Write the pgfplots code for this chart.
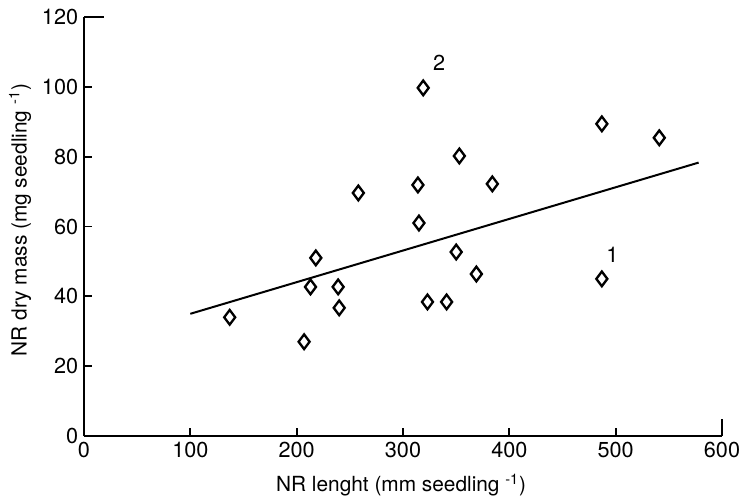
\documentclass[border=0pt]{standalone}
\usepackage{fontspec}
\setmainfont{TeX Gyre Heros}
\usepackage{pgfplots}
\pgfplotsset{compat=1.18}

\begin{document}
\begin{tikzpicture}
\begin{axis}[
    scale only axis,
    width=382.8pt, height=251.4pt,
    xmin=0, xmax=600, ymin=0, ymax=120,
    axis lines=left,
    axis line style={line width=1.1pt, -},
    xtick={0,100,...,600}, ytick={0,20,...,120},
    tick align=inside,
    major tick length=5pt,
    tick style={line width=1.1pt, black},
    tick label style={font=\fontsize{13}{15}\selectfont},
    label style={font=\fontsize{12.5}{14}\selectfont},
    /pgf/number format/assume math mode=true,
    xlabel={NR lenght (mm seedling \textsuperscript{-1})},
    ylabel={NR dry mass (mg seedling \textsuperscript{-1})},
    xlabel style={at={(axis description cs:0.497,-0.117)}, anchor=center},
    ylabel style={at={(axis description cs:-0.1003,0.515)}, anchor=center},
    clip=false,
]
\addplot[only marks, mark=diamond, mark size=4.4pt, mark options={line width=1.4pt, black}] coordinates {
    (137,34) (207,27) (213,42.7) (218,51) (239,42.7) (240,36.7)
    (258,69.6) (319,99.7) (353,80.2) (314,71.9) (315,61) (384,72.2)
    (487,89.4) (541,85.4) (350,52.7) (369,46.4) (323,38.4) (341,38.4)
    (487,45)
};
\addplot[black, line width=1.2pt] coordinates {(100,35) (578,78.3)};
\node[font=\fontsize{13}{15}\selectfont] at (axis cs:334,107) {2};
\node[font=\fontsize{13}{15}\selectfont] at (axis cs:497,52) {1};
\draw[line width=1.1pt] (axis cs:0,120) -- ++(12pt,0);
\draw[line width=1.1pt] (axis cs:600,0) -- ++(0,10pt);
\coordinate (bl) at ([shift={(-50.4pt,-37.2pt)}]rel axis cs:0,0);
\coordinate (tr) at ([shift={(10.2pt,10.2pt)}]rel axis cs:1,1);
\end{axis}
\pgfresetboundingbox
\path[use as bounding box] (bl) rectangle (tr);
\end{tikzpicture}
\end{document}
